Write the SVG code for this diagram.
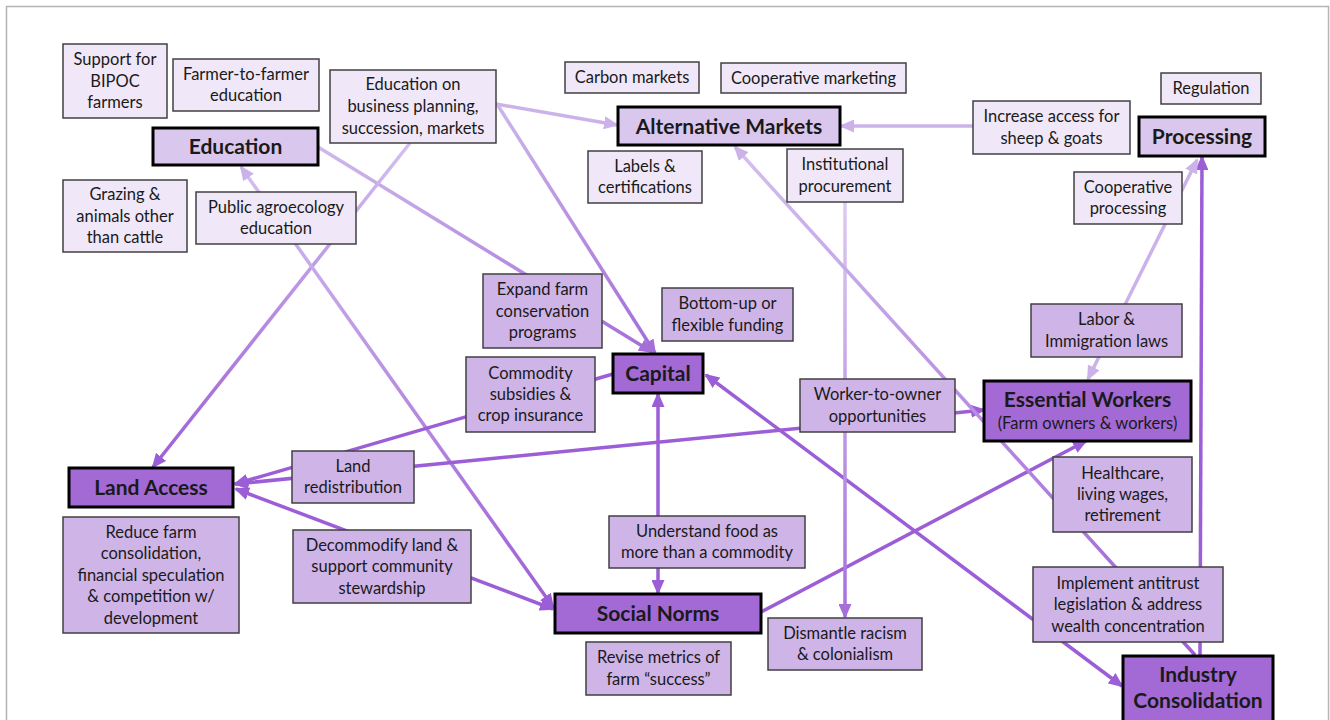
<svg xmlns="http://www.w3.org/2000/svg" width="1330" height="720" viewBox="0 0 1330 720">
<style>
.box rect{stroke:#404040;stroke-width:1.5}
.pale rect{fill:#f0e8f8}
.mid rect{fill:#cfb4e8}
.cat rect{fill:#dac7ee;stroke:#000;stroke-width:3}
.dark rect{fill:#a369d4;stroke:#000;stroke-width:3}
text{font-family:Lato,"Liberation Sans",sans-serif;font-size:16.5px;fill:#1a1a1a;text-anchor:middle}
.b{font-weight:bold;font-size:21px}
.c{fill:none;stroke-width:3.5}
.d{stroke:#9c5ed6}
.l{stroke:#cbb3ea}
</style>
<defs>
<marker id="ad" viewBox="0 0 15 13" refX="13" refY="6.5" markerWidth="15" markerHeight="13" markerUnits="userSpaceOnUse" orient="auto-start-reverse"><path d="M0,0L15,6.5L0,13z" fill="#9c5ed6"/></marker>
<marker id="al" viewBox="0 0 15 13" refX="13" refY="6.5" markerWidth="15" markerHeight="13" markerUnits="userSpaceOnUse" orient="auto-start-reverse"><path d="M0,0L15,6.5L0,13z" fill="#cbb3ea"/></marker>
<marker id="am" viewBox="0 0 15 13" refX="13" refY="6.5" markerWidth="15" markerHeight="13" markerUnits="userSpaceOnUse" orient="auto-start-reverse"><path d="M0,0L15,6.5L0,13z" fill="#a56ed9"/></marker>
<linearGradient id="g2" gradientUnits="userSpaceOnUse" x1="497" y1="104" x2="655" y2="353"><stop offset="0" stop-color="#cdb6ea"/><stop offset="1" stop-color="#a36bd9"/></linearGradient>
<linearGradient id="g3" gradientUnits="userSpaceOnUse" x1="318" y1="147" x2="652" y2="352"><stop offset="0" stop-color="#cfb9eb"/><stop offset="1" stop-color="#a56ed9"/></linearGradient>
<linearGradient id="g4" gradientUnits="userSpaceOnUse" x1="410" y1="143" x2="153" y2="467"><stop offset="0" stop-color="#d3bff0"/><stop offset="1" stop-color="#9d5fd6"/></linearGradient>
<linearGradient id="g5" gradientUnits="userSpaceOnUse" x1="241" y1="167" x2="553" y2="607"><stop offset="0" stop-color="#d3bfee"/><stop offset="1" stop-color="#9d5fd6"/></linearGradient>
<linearGradient id="g12" gradientUnits="userSpaceOnUse" x1="845" y1="202" x2="845" y2="617"><stop offset="0" stop-color="#dccbf0"/><stop offset="1" stop-color="#a56fdc"/></linearGradient>
<linearGradient id="g13" gradientUnits="userSpaceOnUse" x1="1195" y1="655" x2="735" y2="147"><stop offset="0" stop-color="#9d5fd6"/><stop offset="1" stop-color="#d3c0ef"/></linearGradient>
</defs>
<rect x="0" y="0" width="1330" height="720" fill="#fff"/>
<rect x="6.5" y="6.5" width="1322" height="740" fill="none" stroke="#b4b4b4" stroke-width="1.5"/>

<g id="connectors">
<path class="c l" d="M496,104L617,125" marker-end="url(#al)"/>
<path class="c" stroke="url(#g2)" d="M497,104L655,353" marker-end="url(#am)"/>
<path class="c" stroke="url(#g3)" d="M318,147L652,352" marker-end="url(#am)"/>
<path class="c" stroke="url(#g4)" d="M410,143L153,467" marker-end="url(#ad)"/>
<path class="c" stroke="url(#g5)" d="M241,167L553,607" marker-start="url(#al)" marker-end="url(#ad)"/>
<path class="c d" d="M613,374L235,484" marker-end="url(#ad)"/>
<path class="c d" d="M984,410L235,484" marker-start="url(#ad)" marker-end="url(#ad)"/>
<path class="c d" d="M553,609L236,489" marker-start="url(#ad)" marker-end="url(#ad)"/>
<path class="c d" d="M658,394L658,593" marker-start="url(#ad)" marker-end="url(#ad)"/>
<path class="c d" d="M706,375L1122,686" marker-start="url(#ad)" marker-end="url(#ad)"/>
<path class="c d" d="M761,612L1086,441" marker-end="url(#ad)"/>
<path class="c" stroke="url(#g12)" d="M845,202L845,617" marker-end="url(#am)"/>
<path class="c" stroke="url(#g13)" d="M1195,655L735,147" marker-end="url(#al)"/>
<path class="c d" d="M1200,655L1202,157" marker-end="url(#ad)"/>
<path class="c l" d="M1197,160L1088,379" marker-start="url(#al)" marker-end="url(#al)"/>
<path class="c l" d="M973,126L841,126" marker-end="url(#al)"/>
</g>

<g id="bipoc" class="box pale"><rect x="63" y="44" width="104" height="74"/><text x="115" y="65">Support for</text><text x="115" y="86.5">BIPOC</text><text x="115" y="108">farmers</text></g>
<g id="farmer-to-farmer" class="box pale"><rect x="173" y="59" width="146" height="52"/><text x="246" y="79.5">Farmer-to-farmer</text><text x="246" y="101">education</text></g>
<g id="business-education" class="box pale"><rect x="330" y="70" width="166" height="73"/><text x="413" y="90">Education on</text><text x="413" y="112">business planning,</text><text x="413" y="133.5">succession, markets</text></g>
<g id="grazing" class="box pale"><rect x="63" y="180" width="124" height="72"/><text x="125" y="200">Grazing &amp;</text><text x="125" y="221.5">animals other</text><text x="125" y="243">than cattle</text></g>
<g id="public-agroecology" class="box pale"><rect x="196" y="192" width="160" height="52"/><text x="276" y="212.5">Public agroecology</text><text x="276" y="234">education</text></g>
<g id="carbon" class="box pale"><rect x="565" y="62" width="134" height="31"/><text x="632" y="83">Carbon markets</text></g>
<g id="coop-marketing" class="box pale"><rect x="721" y="63" width="185" height="30"/><text x="813.5" y="83.5">Cooperative marketing</text></g>
<g id="labels" class="box pale"><rect x="588" y="151" width="114" height="52"/><text x="645" y="171.5">Labels &amp;</text><text x="645" y="193">certifications</text></g>
<g id="institutional" class="box pale"><rect x="787" y="149" width="116" height="53"/><text x="845" y="170">Institutional</text><text x="845" y="191.5">procurement</text></g>
<g id="regulation" class="box pale"><rect x="1161" y="73" width="100" height="31"/><text x="1211" y="94">Regulation</text></g>
<g id="sheep-goats" class="box pale"><rect x="973" y="101" width="157" height="53"/><text x="1051.5" y="122">Increase access for</text><text x="1051.5" y="143.5">sheep &amp; goats</text></g>
<g id="coop-processing" class="box pale"><rect x="1074" y="172" width="108" height="52"/><text x="1128" y="192.5">Cooperative</text><text x="1128" y="214">processing</text></g>

<g id="education" class="box cat"><rect x="153" y="128" width="165" height="37"/><text class="b" x="235.5" y="153.5">Education</text></g>
<g id="alternative-markets" class="box cat"><rect x="618" y="107" width="222" height="38"/><text class="b" x="729" y="133.5">Alternative Markets</text></g>
<g id="processing" class="box cat"><rect x="1139" y="117" width="126" height="39"/><text class="b" x="1202" y="144">Processing</text></g>

<g id="expand-farm" class="box mid"><rect x="483" y="274" width="119" height="74"/><text x="542.5" y="295">Expand farm</text><text x="542.5" y="316.5">conservation</text><text x="542.5" y="338">programs</text></g>
<g id="bottom-up" class="box mid"><rect x="662" y="288" width="131" height="53"/><text x="727.5" y="309">Bottom-up or</text><text x="727.5" y="330.5">flexible funding</text></g>
<g id="commodity" class="box mid"><rect x="466" y="357" width="129" height="75"/><text x="530.5" y="378.5">Commodity</text><text x="530.5" y="400">subsidies &amp;</text><text x="530.5" y="421">crop insurance</text></g>
<g id="worker-owner" class="box mid"><rect x="800" y="379" width="155" height="53"/><text x="877.5" y="400">Worker-to-owner</text><text x="877.5" y="421.5">opportunities</text></g>
<g id="labor" class="box mid"><rect x="1031" y="304" width="151" height="53"/><text x="1106.5" y="325">Labor &amp;</text><text x="1106.5" y="346.5">Immigration laws</text></g>
<g id="healthcare" class="box mid"><rect x="1053" y="457" width="139" height="75"/><text x="1122.5" y="478.5">Healthcare,</text><text x="1122.5" y="500">living wages,</text><text x="1122.5" y="521">retirement</text></g>
<g id="antitrust" class="box mid"><rect x="1033" y="567" width="190" height="75"/><text x="1128" y="588.5">Implement antitrust</text><text x="1128" y="610">legislation &amp; address</text><text x="1128" y="631.5">wealth concentration</text></g>
<g id="land-redistribution" class="box mid"><rect x="292" y="451" width="122" height="52"/><text x="353" y="471.5">Land</text><text x="353" y="493">redistribution</text></g>
<g id="reduce-farm" class="box mid"><rect x="63" y="517" width="176" height="116"/><text x="151" y="537.5">Reduce farm</text><text x="151" y="559">consolidation,</text><text x="151" y="580.5">financial speculation</text><text x="151" y="602">&amp; competition w/</text><text x="151" y="623.5">development</text></g>
<g id="decommodify" class="box mid"><rect x="293" y="530" width="178" height="73"/><text x="382" y="550.5">Decommodify land &amp;</text><text x="382" y="572">support community</text><text x="382" y="593.5">stewardship</text></g>
<g id="understand-food" class="box mid"><rect x="609" y="516" width="196" height="52"/><text x="707" y="536.5">Understand food as</text><text x="707" y="558">more than a commodity</text></g>
<g id="revise-metrics" class="box mid"><rect x="586" y="642" width="145" height="53"/><text x="658.5" y="663">Revise metrics of</text><text x="658.5" y="684.5">farm “success”</text></g>
<g id="dismantle" class="box mid"><rect x="768" y="618" width="154" height="52"/><text x="845" y="638.5">Dismantle racism</text><text x="845" y="660">&amp; colonialism</text></g>

<g id="capital" class="box dark"><rect x="613" y="354" width="90" height="39"/><text class="b" x="658" y="381">Capital</text></g>
<g id="essential-workers" class="box dark"><rect x="984" y="381" width="207" height="60"/><text class="b" x="1087.5" y="407">Essential Workers</text><text x="1087.5" y="429">(Farm owners &amp; workers)</text></g>
<g id="land-access" class="box dark"><rect x="69" y="468" width="164" height="39"/><text class="b" x="151" y="495">Land Access</text></g>
<g id="social-norms" class="box dark"><rect x="555" y="594" width="206" height="39"/><text class="b" x="658" y="621">Social Norms</text></g>
<g id="industry-consolidation" class="box dark"><rect x="1123" y="656" width="150" height="70"/><text class="b" x="1198" y="682">Industry</text><text class="b" x="1198" y="708">Consolidation</text></g>
</svg>
